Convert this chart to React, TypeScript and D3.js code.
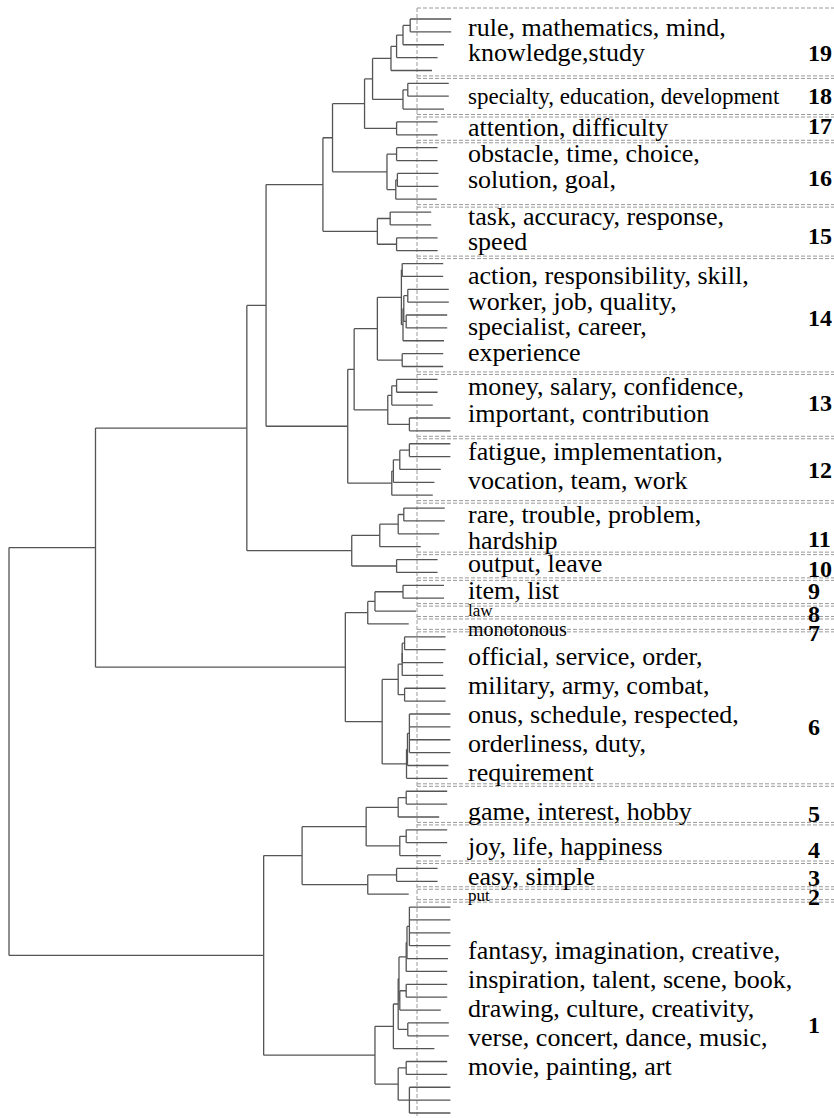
import * as d3 from "d3";

// cluster order from top to bottom, leaves per cluster, and their words
const CLUSTER_IDS = [19, 18, 17, 16, 15, 14, 13, 12, 11, 10, 9, 8, 7, 6, 5, 4, 3, 2, 1];
const CLUSTER_SIZES = [5, 3, 2, 5, 4, 9, 5, 5, 4, 2, 2, 1, 1, 12, 3, 3, 2, 1, 17];
const CLUSTER_WORDS = [
  ["rule, mathematics, mind,", "knowledge,study"],
  ["specialty, education, development"],
  ["attention, difficulty"],
  ["obstacle, time, choice,", "solution, goal,"],
  ["task, accuracy, response,", "speed"],
  ["action, responsibility, skill,", "worker, job, quality,", "specialist, career,", "experience"],
  ["money, salary, confidence,", "important, contribution"],
  ["fatigue, implementation,", "vocation, team, work"],
  ["rare, trouble, problem,", "hardship"],
  ["output, leave"],
  ["item, list"],
  ["law"],
  ["monotonous"],
  [
    "official, service, order,",
    "military, army, combat,",
    "onus, schedule, respected,",
    "orderliness, duty,",
    "requirement",
  ],
  ["game, interest, hobby"],
  ["joy, life, happiness"],
  ["easy, simple"],
  ["put"],
  [
    "fantasy, imagination, creative,",
    "inspiration, talent, scene, book,",
    "drawing, culture, creativity,",
    "verse, concert, dance, music,",
    "movie, painting, art",
  ],
];

// merges: [height, ...children]; a plain number is a leaf position (0 = top)
const C19 = [1.25, [0.9, [0.5, [0.05, 0, 1], 2], 3], 4];
const C18 = [0.5, [0.2, 5, 6], 7];
const C17 = [0.9, 8, 9];
const C16 = [1.5, [0.9, 10, 11], [0.95, [0.85, 12, 13], 14]];
const C15 = [2.1, [1.3, 15, 16], [0.9, 17, 18]];
const C14 = [2.1, [0.6, [0.55, 19, 20], [0.5, [0.45, [0.2, 21, 22], [0.3, 23, 24]], 25]], [0.55, 26, 27]];
const C13 = [1.45, [1.2, [0.9, 28, 29], 30], [0.1, 31, 32]];
const C12 = [1.2, [1.1, [0.7, [0.1, 33, 34], 35], 36], 37];
const C11 = [1.95, [0.8, [0.45, 38, 39], 40], 41];
const C10 = [0.9, 42, 43];
const C9 = [0.5, 44, 45];
const C6 = [
  1.8,
  [0.8, [0.55, [0.55, [0.4, 48, 49], 50], 51], [0.4, 52, 53]],
  [0.28, [0.22, [0.1, 54, 55, 56, 57], 58], 59],
];
const C5 = [0.8, [0.3, 60, 61], 62];
const C4 = [0.7, [0.3, 63, 64], 65];
const C3 = [0.9, 66, 67];
const C1 = [
  2.25,
  [1.1, [0.8, [0.75, [0.3, [0.25, [0.1, 69, 70, 71, 72], 73], 74], [0.7, [0.3, 75, 76], 77]], [0.2, 78, 79]], 80],
  [0.8, [0.3, 81, 82], [0.1, 83, 84, 85]],
];

const UPPER = [
  19.7,
  [10.25, [9.05, [5.5, [4.9, [2.9, [2.4, C19, C18], C17], C16], C15], [3.95, [3.55, C14, C13], C12]], [3.7, C11, C10]],
  [4.1, [2.7, [2.25, C9, 46], 47], C6],
];
const LOWER = [9.2, [6.8, [2.8, C5, C4], [2.7, C3, 68]], C1];
const TREE = [25.1, UPPER, LOWER];
const HANG = 2.56;

// layout tweaks
const W = 834;
const H = 1118;
const BOX_X = 417;
const TEXT_X = 468;
const NUM_X = 808;
const FONT = "Liberation Serif, Times New Roman, Times, serif";
const LABEL_SIZE: Record<number, number> = { 18: 23, 8: 17, 7: 20, 2: 17 };
const LINE_GAP: Record<number, number> = { 6: 29, 1: 29, 12: 29, 13: 27 };
const TEXT_NUDGE: Record<number, number> = {
  19: -3.5, 18: 1.5, 16: -5.5, 15: -1, 13: -4, 12: -2, 11: 1.5, 10: -1.5, 7: 6, 6: 8.5, 5: 8.5, 4: 5, 3: 3, 2: 2,
};
const NUM_NUDGE: Record<number, number> = {
  19: 8, 17: -2, 16: 5, 15: 5, 14: 3, 13: -2, 12: 1, 11: 12, 10: 3, 9: -1, 8: 3, 7: 9, 6: 19, 5: 10, 4: 7, 3: 3, 2: 3, 1: 15,
};

type Raw = number | Raw[];
type Node = { h: number; leaf?: number; children?: Node[] };

function toNode(r: Raw): Node {
  if (typeof r === "number") return { h: 0, leaf: r };
  const [h, ...kids] = r;
  return { h: h as number, children: kids.map(toNode) };
}

export default function App() {
  const nLeaves = d3.sum(CLUSTER_SIZES);
  const y = d3.scaleLinear().domain([0, nLeaves - 1]).range([19, 1113]);
  const x = d3.scaleLinear().domain([0, 25.1]).range([411, 9]);

  const root = d3.hierarchy<Node>(toNode(TREE as Raw));
  const pos = new Map<d3.HierarchyNode<Node>, { x: number; y: number }>();
  root.eachAfter((n) => {
    if (!n.children) {
      pos.set(n, { x: x(n.parent!.data.h - HANG), y: y(n.data.leaf!) });
    } else {
      const a = pos.get(n.children[0])!;
      const b = pos.get(n.children[n.children.length - 1])!;
      pos.set(n, { x: x(n.data.h), y: (a.y + b.y) / 2 });
    }
  });

  const paths: string[] = [];
  root.each((n) => {
    if (!n.children) return;
    const p = pos.get(n)!;
    const first = pos.get(n.children[0])!;
    const last = pos.get(n.children[n.children.length - 1])!;
    let d = `M${p.x},${first.y}V${last.y}`;
    n.children.forEach((c) => {
      const cp = pos.get(c)!;
      d += `M${p.x},${cp.y}H${cp.x}`;
    });
    paths.push(d);
  });

  const starts = d3.cumsum([0, ...CLUSTER_SIZES]);
  const clusters = CLUSTER_IDS.map((id, i) => {
    const first = starts[i];
    const last = first + CLUSTER_SIZES[i] - 1;
    return { id, first, last, words: CLUSTER_WORDS[i], mid: (y(first) + y(last)) / 2 };
  });

  const boxTop = (c: { first: number }) => (c.first === 0 ? 8 : y(c.first - 0.5) + 1.5);

  return (
    <svg
      width={W}
      height={H}
      style={{ position: "absolute", left: 0, top: 0, background: "#fff", fontFamily: FONT }}
    >
      <g stroke="#9a9a9a" strokeWidth={1} strokeDasharray="4 2" fill="none">
        <line x1={BOX_X} x2={BOX_X} y1={8} y2={H} />
        {clusters.map((c) => (
          <g key={c.id}>
            <line x1={BOX_X} x2={W + 10} y1={boxTop(c)} y2={boxTop(c)} />
            {c.id !== 1 && (
              <line x1={BOX_X} x2={W + 10} y1={y(c.last + 0.5) - 1} y2={y(c.last + 0.5) - 1} />
            )}
          </g>
        ))}
      </g>
      <g stroke="#555" strokeWidth={1.3} fill="none">
        {paths.map((d, i) => (
          <path key={i} d={d} />
        ))}
      </g>
      {clusters.map((c) => {
        const fs = LABEL_SIZE[c.id] ?? 26;
        const gap = LINE_GAP[c.id] ?? 25.5;
        const center = c.mid + (TEXT_NUDGE[c.id] ?? 0);
        const n = c.words.length;
        return (
          <g key={c.id}>
            {c.words.map((w, k) => (
              <text
                key={k}
                x={TEXT_X}
                y={center + (k - (n - 1) / 2) * gap + fs * 0.28}
                fontSize={fs}
                fill="#000"
                style={{ fontFamily: FONT }}
              >
                {w}
              </text>
            ))}
            <text
              x={NUM_X}
              y={c.mid + (NUM_NUDGE[c.id] ?? 0) + 8}
              fontSize={24}
              fontWeight="bold"
              fill="#000"
              style={{ fontFamily: FONT }}
            >
              {c.id}
            </text>
          </g>
        );
      })}
    </svg>
  );
}
